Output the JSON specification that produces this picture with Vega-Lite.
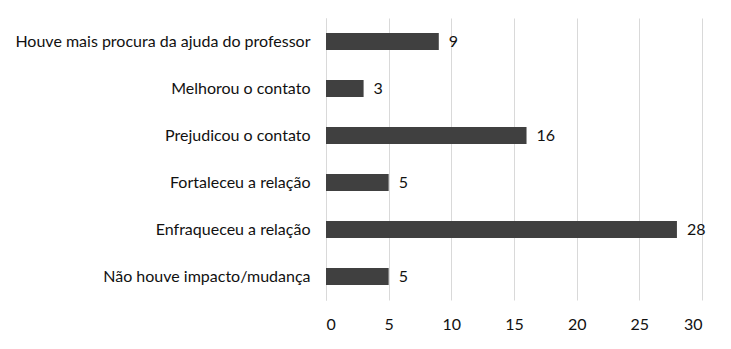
{
  "$schema": "https://vega.github.io/schema/vega-lite/v6.json",
  "width": 376,
  "height": 282,
  "autosize": {"type": "none"},
  "padding": {"left": 326, "top": 18, "right": 29, "bottom": 49},
  "background": "white",
  "config": {
    "view": {"stroke": null},
    "font": "Lato",
    "axis": {"labelFont": "Lato", "labelFontSize": 16, "labelColor": "#111111"}
  },
  "data": {
    "values": [
      {"categoria": "Houve mais procura da ajuda do professor", "valor": 9},
      {"categoria": "Melhorou o contato", "valor": 3},
      {"categoria": "Prejudicou o contato", "valor": 16},
      {"categoria": "Fortaleceu a relação", "valor": 5},
      {"categoria": "Enfraqueceu a relação", "valor": 28},
      {"categoria": "Não houve impacto/mudança", "valor": 5}
    ]
  },
  "encoding": {
    "y": {
      "field": "categoria",
      "type": "nominal",
      "sort": null,
      "title": null,
      "scale": {"paddingInner": 0.64, "paddingOuter": 0.32},
      "axis": {"ticks": false, "domainColor": "#d9d9d9", "labelPadding": 16, "labelLimit": 400}
    },
    "x": {
      "field": "valor",
      "type": "quantitative",
      "title": null,
      "scale": {"domain": [0, 30], "nice": false},
      "axis": {"values": [0, 5, 10, 15, 20, 25, 30], "grid": true, "gridColor": "#d9d9d9", "domain": false, "ticks": false, "labelPadding": 16}
    }
  },
  "layer": [
    {"mark": {"type": "bar", "color": "#404040"}},
    {"mark": {"type": "text", "align": "left", "dx": 10, "fontSize": 16, "color": "#111111", "font": "Lato"}, "encoding": {"text": {"field": "valor", "type": "quantitative"}}}
  ]
}
